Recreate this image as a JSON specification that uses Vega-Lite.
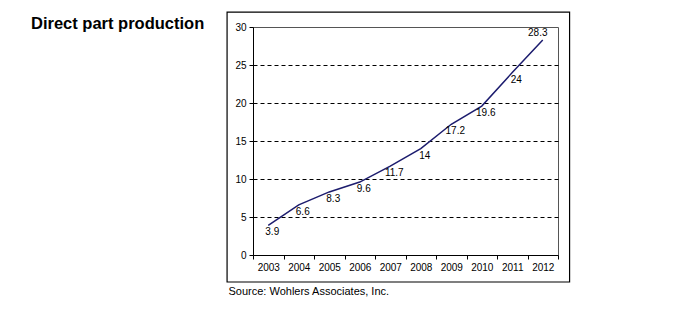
{
  "$schema": "https://vega.github.io/schema/vega-lite/v6.json",
  "width": 305,
  "height": 228,
  "autosize": {"type": "none"},
  "padding": {"left": 253, "top": 27, "right": 122, "bottom": 54},
  "background": "white",
  "title": {
    "text": "Direct part production",
    "anchor": "start",
    "frame": "group",
    "dx": -222,
    "dy": 21,
    "offset": 0,
    "fontSize": 16.5,
    "font": "Liberation Sans",
    "fontWeight": "bold",
    "color": "black"
  },
  "config": {
    "view": {"stroke": "#555555", "strokeWidth": 1},
    "axis": {
      "domainColor": "black",
      "tickColor": "black",
      "labelColor": "black",
      "labelFont": "Liberation Sans",
      "labelFontSize": 10,
      "tickSize": 4,
      "labelPadding": 3
    }
  },
  "data": {
    "values": [
      {"year": "2003", "value": 3.9},
      {"year": "2004", "value": 6.6},
      {"year": "2005", "value": 8.3},
      {"year": "2006", "value": 9.6},
      {"year": "2007", "value": 11.7},
      {"year": "2008", "value": 14},
      {"year": "2009", "value": 17.2},
      {"year": "2010", "value": 19.6},
      {"year": "2011", "value": 24},
      {"year": "2012", "value": 28.3}
    ]
  },
  "layer": [
    {
      "encoding": {
        "x": {
          "field": "year",
          "type": "ordinal",
          "scale": {"type": "band", "paddingInner": 0, "paddingOuter": 0},
          "axis": {
            "labelAngle": 0,
            "tickBand": "extent",
            "title": "Source: Wohlers Associates, Inc.",
            "titleAnchor": "start",
            "titleAlign": "left",
            "titleX": -25,
            "titleY": 39,
            "titleBaseline": "alphabetic",
            "titleFont": "Liberation Sans",
            "titleFontSize": 11,
            "titleFontWeight": "normal",
            "titleColor": "black"
          }
        },
        "y": {
          "field": "value",
          "type": "quantitative",
          "scale": {"domain": [0, 30], "nice": false},
          "axis": {
            "values": [0, 5, 10, 15, 20, 25, 30],
            "title": null,
            "grid": true,
            "gridColor": "black",
            "gridDash": [4, 3],
            "gridOpacity": {"condition": {"test": "datum.value === 0 || datum.value === 30", "value": 0}, "value": 1}
          }
        }
      },
      "layer": [
        {
          "mark": {"type": "line", "color": "#1c1c6e", "strokeWidth": 1.5}
        },
        {
          "transform": [{"filter": "datum.year !== '2012'"}],
          "mark": {"type": "text", "dx": 4, "dy": 7, "baseline": "middle", "align": "center", "font": "Liberation Sans", "fontSize": 10, "color": "black"},
          "encoding": {"text": {"field": "value", "type": "quantitative"}}
        },
        {
          "transform": [{"filter": "datum.year === '2012'"}],
          "mark": {"type": "text", "dx": -5, "dy": -7, "baseline": "middle", "align": "center", "font": "Liberation Sans", "fontSize": 10, "color": "black"},
          "encoding": {"text": {"field": "value", "type": "quantitative"}}
        }
      ]
    },
    {
      "data": {"values": [{}]},
      "mark": {"type": "rect", "filled": false, "stroke": "black", "strokeWidth": 1.2, "clip": false},
      "encoding": {
        "x": {"datum": 2001.65, "type": "quantitative", "scale": {"domain": [2002.5, 2012.5], "nice": false, "zero": false}, "axis": null},
        "x2": {"datum": 2012.88},
        "y": {"datum": -3.55, "type": "quantitative", "axis": null},
        "y2": {"datum": 31.97}
      }
    }
  ],
  "resolve": {"scale": {"x": "independent"}, "axis": {"x": "independent", "y": "independent"}}
}
